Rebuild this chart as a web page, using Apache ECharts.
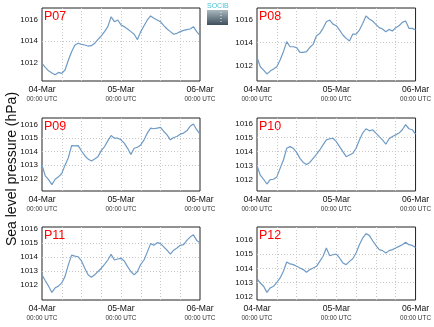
<!DOCTYPE html>
<html>
<head>
<meta charset="utf-8">
<script src="https://cdn.jsdelivr.net/npm/echarts@6/dist/echarts.min.js"></script>
<style>
  html, body { margin: 0; padding: 0; background: #fff; }
  #chart { width: 434px; height: 327px; }
</style>
</head>
<body>
<div id="chart"></div>
<script>
// Station names, one panel each
const stations = ['P07', 'P08', 'P09', 'P10', 'P11', 'P12'];

// Hourly sea level pressure (hPa), 04-Mar 00:00 UTC to 06-Mar 00:00 UTC
const p07 = [1011.9, 1011.53, 1011.2, 1011.0, 1010.83, 1011.05, 1010.96, 1011.28, 1012.2, 1013.0,
  1013.64, 1013.8, 1013.7, 1013.64, 1013.54, 1013.57, 1013.8, 1014.17, 1014.49, 1014.9,
  1015.37, 1016.3, 1015.84, 1016.0, 1015.53, 1015.37, 1015.15, 1014.9, 1014.65, 1014.15,
  1014.9, 1015.46, 1016.0, 1016.38, 1016.16, 1016.0, 1015.84, 1015.46, 1015.15, 1014.9,
  1014.65, 1014.74, 1014.9, 1015.02, 1015.09, 1015.15, 1015.37, 1014.9, 1014.52];
const p08 = [1012.7, 1011.88, 1011.59, 1011.25, 1011.5, 1011.68, 1011.88, 1012.46, 1013.19, 1014.06,
  1013.62, 1013.62, 1013.54, 1013.13, 1013.13, 1013.19, 1013.57, 1013.83, 1014.58, 1014.78,
  1015.22, 1015.8, 1015.94, 1015.59, 1015.45, 1015.07, 1014.64, 1014.35, 1014.12, 1014.72,
  1014.72, 1015.07, 1015.65, 1016.3, 1016.03, 1015.86, 1015.57, 1015.28, 1015.16, 1014.93,
  1015.13, 1014.99, 1015.28, 1015.45, 1015.74, 1015.86, 1015.22, 1015.22, 1015.07];
const p09 = [1013.0, 1012.2, 1011.93, 1011.55, 1011.95, 1012.13, 1012.38, 1013.0, 1013.55, 1014.45,
  1014.43, 1014.45, 1014.05, 1013.7, 1013.45, 1013.3, 1013.45, 1013.63, 1014.08, 1014.38,
  1014.8, 1015.2, 1015.0, 1015.0, 1014.88, 1014.63, 1014.25, 1013.8, 1014.25, 1014.33,
  1014.5, 1014.88, 1015.38, 1015.75, 1015.7, 1015.75, 1015.8, 1015.5, 1015.25, 1014.88,
  1015.05, 1015.13, 1015.3, 1015.38, 1015.55, 1015.88, 1016.05, 1015.63, 1015.3];
const p10 = [1013.0, 1012.31, 1012.02, 1011.68, 1012.0, 1012.02, 1012.19, 1012.8, 1013.4, 1014.24,
  1014.36, 1014.24, 1013.95, 1013.52, 1013.23, 1013.08, 1013.23, 1013.52, 1013.81, 1014.12,
  1014.48, 1014.84, 1014.92, 1014.96, 1014.72, 1014.36, 1014.0, 1013.64, 1013.76, 1013.88,
  1014.24, 1014.84, 1015.33, 1015.64, 1015.49, 1015.57, 1015.33, 1015.08, 1014.84, 1014.53,
  1014.92, 1015.08, 1015.2, 1015.33, 1015.57, 1015.93, 1015.64, 1015.57, 1015.25];
const p11 = [1012.74, 1012.32, 1011.93, 1011.48, 1011.81, 1011.93, 1012.16, 1012.63, 1013.45, 1014.15,
  1014.08, 1014.03, 1013.73, 1013.21, 1012.74, 1012.56, 1012.74, 1012.98, 1013.21, 1013.49,
  1013.8, 1014.2, 1013.8, 1013.87, 1013.92, 1013.73, 1013.33, 1012.98, 1012.74, 1012.98,
  1013.49, 1013.8, 1014.38, 1014.97, 1014.85, 1015.04, 1014.97, 1014.74, 1014.5, 1014.22,
  1014.5, 1014.66, 1014.85, 1014.9, 1015.2, 1015.44, 1015.6, 1015.2, 1015.04];
const p12 = [1013.27, 1012.96, 1012.73, 1012.3, 1012.61, 1012.73, 1013.01, 1013.32, 1013.79, 1014.45,
  1014.31, 1014.26, 1014.14, 1014.02, 1013.91, 1013.72, 1013.91, 1014.02, 1014.14, 1014.49,
  1014.85, 1015.44, 1014.89, 1014.96, 1015.01, 1014.73, 1014.38, 1014.26, 1014.49, 1014.68,
  1015.08, 1015.67, 1016.14, 1016.45, 1016.33, 1015.95, 1015.62, 1015.32, 1015.25, 1015.08,
  1015.25, 1015.32, 1015.44, 1015.55, 1015.67, 1015.84, 1015.67, 1015.62, 1015.48];
const pressure = [p07, p08, p09, p10, p11, p12];

// Y-axis tick labels per panel
const yTicks = [
  [1012, 1014, 1016],
  [1012, 1014, 1016],
  [1012, 1013, 1014, 1015, 1016],
  [1012, 1013, 1014, 1015, 1016],
  [1012, 1013, 1014, 1015, 1016],
  [1012, 1013, 1014, 1015, 1016]
];
// Y-axis extents per panel
const yMin = [1010.24, 1010.64, 1011.08, 1011.18, 1010.94, 1011.76];
const yMax = [1017.13, 1016.99, 1016.5, 1016.41, 1016.16, 1016.92];

// X-axis labels (hours since 04-Mar 00:00 UTC)
const dayLabels = { 0: '04-Mar', 24: '05-Mar', 48: '06-Mar' };
const timeLabel = '00:00 UTC';
const yTitle = 'Sea level pressure (hPa)';

const FONT = '"Liberation Sans", Arial, Helvetica, sans-serif';
const colLeft = [42, 257];
const rowTop = [8, 118, 227];
const plotW = 158, plotH = 73;
const lineColor = '#6f9bc6';
const gridLine = { color: '#c8c8c8', type: [1, 2], width: 1 };

const grids = [], xAxes = [], yAxes = [], series = [], titles = [];
stations.forEach((name, i) => {
  const col = i % 2, row = Math.floor(i / 2);
  const left = colLeft[col], top = rowTop[row];
  grids.push({
    left: left, top: top, width: plotW + col, height: plotH,
    show: true, borderColor: '#222', borderWidth: 1, backgroundColor: '#fff'
  });
  xAxes.push({
    type: 'value', gridIndex: i, min: 0, max: 48, interval: 6,
    axisLine: { show: false }, axisTick: { show: false },
    splitLine: { show: true, showMinLine: false, showMaxLine: false, lineStyle: gridLine },
    axisLabel: {
      show: true, margin: 3, showMinLabel: true, showMaxLabel: true,
      fontFamily: FONT, color: '#111',
      formatter: v => dayLabels[v] !== undefined ? '{a|' + dayLabels[v] + '}\n{b|' + timeLabel + '}' : '',
      rich: {
        a: { fontSize: 8.6, lineHeight: 11, fontFamily: FONT, color: '#111' },
        b: { fontSize: 6.4, lineHeight: 9, fontFamily: FONT, color: '#333' }
      }
    }
  });
  yAxes.push({
    type: 'value', gridIndex: i, min: yMin[i], max: yMax[i],
    axisLine: { show: false },
    axisTick: { show: false, customValues: yTicks[i] },
    splitLine: { show: true, showMinLine: false, showMaxLine: false, lineStyle: gridLine },
    axisLabel: {
      customValues: yTicks[i], margin: 4, fontSize: 8, fontFamily: FONT, color: '#111',
      formatter: v => String(Math.round(v))
    }
  });
  series.push({
    type: 'line', xAxisIndex: i, yAxisIndex: i, showSymbol: false, symbol: 'none',
    data: pressure[i].map((v, h) => [h, v]),
    lineStyle: { color: lineColor, width: 1.2 }, z: 3
  });
  titles.push({
    text: name, left: left + 2, top: top + 2, padding: 0,
    textStyle: { color: '#f00', fontSize: 12.5, fontWeight: 'normal', fontFamily: FONT }
  });
});

const option = {
  animation: false,
  backgroundColor: '#fff',
  title: titles,
  grid: grids,
  xAxis: xAxes,
  yAxis: yAxes,
  series: series,
  graphic: [
    {
      type: 'text', x: 12, y: 169, rotation: Math.PI / 2,
      style: { text: yTitle, fontSize: 14, fontFamily: FONT, fill: '#111', align: 'center', verticalAlign: 'middle' }
    },
    {
      type: 'group', left: 207, top: 3,
      children: [
        {
          type: 'text', x: 0, y: 0,
          style: { text: 'SOCIB', fontSize: 7, fontFamily: FONT, fill: '#49c3d6' }
        },
        {
          type: 'rect', shape: { x: 0, y: 7, width: 21, height: 15 },
          style: {
            fill: new echarts.graphic.LinearGradient(0, 0, 0, 1, [
              { offset: 0, color: '#aab8c0' },
              { offset: 1, color: '#3e4f5c' }
            ])
          }
        },
        {
          type: 'line', shape: { x1: 14, y1: 9, x2: 14, y2: 20 },
          style: { stroke: '#e8f0f4', lineWidth: 1, lineDash: [1, 2] }
        }
      ]
    }
  ]
};

const chart = echarts.init(document.getElementById('chart'), null, { renderer: 'canvas' });
chart.setOption(option);
</script>
</body>
</html>
